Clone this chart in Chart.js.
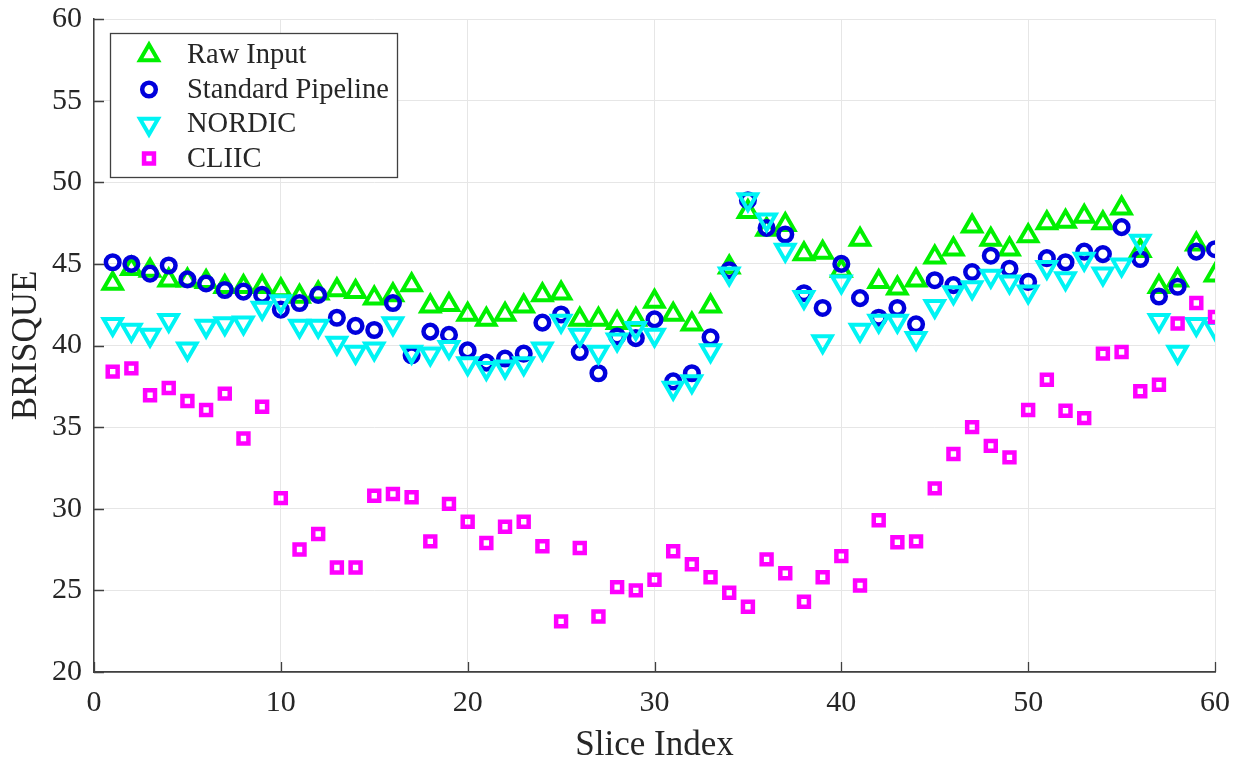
<!DOCTYPE html>
<html>
<head>
<meta charset="utf-8">
<title>BRISQUE per slice</title>
<script src="https://cdn.jsdelivr.net/npm/chart.js@4.4.1/dist/chart.umd.min.js"></script>
<style>
  body{margin:0;background:#fff;}
  #wrap{width:1249px;height:764px;}
</style>
</head>
<body>
<div id="wrap"><canvas id="grafico" width="1249" height="764"></canvas></div>
<script>
// slice index 1..60
let slices=[];
for(let i=1;i<=60;i++) slices.push(i);

let rawInput=[43.8,44.7,44.6,44.0,44.0,43.9,43.6,43.6,43.6,43.4,
  43.0,43.2,43.4,43.3,42.9,43.1,43.7,42.4,42.5,41.9,
  41.6,41.9,42.4,43.1,43.2,41.6,41.6,41.4,41.6,42.7,
  41.9,41.3,42.4,44.8,48.2,47.1,47.4,45.6,45.7,44.6,
  46.5,43.9,43.5,44.0,45.4,45.9,47.3,46.5,45.9,46.7,
  47.5,47.6,47.9,47.5,48.4,45.8,43.6,44.0,46.2,44.3];

let standardPipeline=[45.1,45.0,44.4,44.9,44.05,43.8,43.4,43.3,43.1,42.2,
  42.6,43.1,41.7,41.2,40.95,42.6,39.4,40.85,40.65,39.7,
  38.95,39.2,39.5,41.4,41.9,39.6,38.3,40.55,40.45,41.6,
  37.8,38.3,40.5,44.6,48.9,47.2,46.8,43.2,42.3,45.0,
  42.9,41.7,42.3,41.3,44.0,43.7,44.5,45.5,44.7,43.9,
  45.35,45.1,45.75,45.6,47.25,45.3,43.0,43.6,45.75,45.9];

let nordic=[41.3,40.95,40.65,41.55,39.8,41.2,41.35,41.4,42.3,42.7,
  41.2,41.2,40.15,39.6,39.8,41.35,39.6,39.5,39.9,38.9,
  38.6,38.7,38.9,39.8,41.5,40.65,39.6,40.35,41.05,40.65,
  37.4,37.8,39.7,44.4,48.95,47.7,45.85,42.95,40.25,43.9,
  40.95,41.5,41.5,40.45,42.4,43.25,43.55,44.25,43.9,43.3,
  44.8,44.1,45.3,44.4,44.95,46.4,41.55,39.6,41.3,41.05];

let cliic=[38.4,38.6,36.95,37.4,36.6,36.05,37.05,34.3,36.25,30.65,
  27.5,28.45,26.4,26.4,30.8,30.9,30.7,28.0,30.3,29.2,
  27.9,28.9,29.2,27.7,23.1,27.6,23.4,25.2,25.0,25.65,
  27.4,26.6,25.8,24.85,24.0,26.9,26.05,24.3,25.8,27.1,
  25.3,29.3,27.95,28.0,31.25,33.35,35.0,33.85,33.15,36.05,
  37.9,36.0,35.55,39.5,39.6,37.2,37.6,41.35,42.6,41.75];

let xTicks=[0,10,20,30,40,50,60];
let yTicks=[20,25,30,35,40,45,50,55,60];

const serif="'Liberation Serif','Times New Roman',serif";
const txt="#262626";
const axisCol="#404040";

function pts(vals){
  return vals.map(function(v,i){ return {x:slices[i], y:v}; });
}

let datasets=[
  {label:'Raw Input', data:pts(rawInput), pointStyle:'triangle', pointRotation:0,
   borderColor:'#00f000', radius:10.5, borderWidth:4, order:4},
  {label:'Standard Pipeline', data:pts(standardPipeline), pointStyle:'circle', pointRotation:0,
   borderColor:'#0000dc', radius:6.8, borderWidth:4.5, order:3},
  {label:'NORDIC', data:pts(nordic), pointStyle:'triangle', pointRotation:180,
   borderColor:'#00f4f4', radius:10.5, borderWidth:4, order:2},
  {label:'CLIIC', data:pts(cliic), pointStyle:'rect', pointRotation:0,
   borderColor:'#ff00ff', radius:7, borderWidth:4.5, order:1}
];
datasets.forEach(function(d){
  d.backgroundColor='rgba(0,0,0,0)';
  d.pointBorderColor=d.borderColor;
  d.pointBorderWidth=d.borderWidth;
  d.pointRadius=d.radius;
  d.pointHoverRadius=d.radius;
  d.showLine=false;
});

// small inward ticks like the original figure
const innerTicks={
  id:'innerTicks',
  beforeDatasetsDraw(chart){
    const ctx=chart.ctx, a=chart.chartArea;
    const xs=chart.scales.x, ys=chart.scales.y;
    ctx.save();
    ctx.strokeStyle=axisCol;
    ctx.lineWidth=1.3;
    ctx.beginPath();
    xTicks.forEach(function(t){
      let px=Math.round(xs.getPixelForValue(t))+0.5;
      ctx.moveTo(px,a.bottom); ctx.lineTo(px,a.bottom-10);
    });
    yTicks.forEach(function(t){
      let py=Math.round(ys.getPixelForValue(t))+0.5;
      ctx.moveTo(a.left,py); ctx.lineTo(a.left+10,py);
    });
    ctx.stroke();
    ctx.restore();
  }
};

// boxed legend inside the plot, top left
const boxLegend={
  id:'boxLegend',
  afterDraw(chart){
    const ctx=chart.ctx;
    const x0=110, y0=33, w=287, h=144;
    ctx.save();
    ctx.fillStyle='#fff';
    ctx.fillRect(x0,y0,w,h);
    ctx.strokeStyle=axisCol;
    ctx.lineWidth=1.3;
    ctx.strokeRect(x0+0.5,y0+0.5,w,h);
    ctx.font="28.5px "+serif;
    ctx.textBaseline='middle';
    ctx.textAlign='left';
    datasets.forEach(function(d,i){
      let cy=y0+22+i*34.5;
      ctx.strokeStyle=d.borderColor;
      ctx.fillStyle='rgba(0,0,0,0)';
      ctx.lineWidth=d.borderWidth;
      Chart.helpers.drawPoint(ctx,{pointStyle:d.pointStyle,rotation:d.pointRotation,radius:d.radius,borderWidth:d.borderWidth},149,cy);
      ctx.fillStyle=txt;
      ctx.fillText(d.label,187,cy+1);
    });
    ctx.restore();
  }
};

const ctx=document.getElementById("grafico").getContext('2d');
new Chart(ctx,{
  type:'scatter',
  data:{datasets:datasets},
  options:{
    responsive:false,
    animation:false,
    devicePixelRatio:1,
    layout:{padding:{top:19,right:34,left:0,bottom:0}},
    plugins:{legend:{display:false},tooltip:{enabled:false}},
    scales:{
      x:{
        type:'linear', min:0, max:60,
        afterBuildTicks:function(s){ s.ticks=xTicks.map(function(v){return {value:v};}); },
        afterFit:function(s){ s.height=92; s.paddingLeft=0; s.paddingRight=0; },
        ticks:{font:{family:serif,size:30},color:txt,padding:13,maxRotation:0},
        grid:{color:'#e6e6e6',lineWidth:1,drawTicks:false},
        border:{display:true,color:axisCol,width:1.8},
        title:{display:true,text:'Slice Index',color:txt,font:{family:serif,size:35,lineHeight:1},padding:{top:0,bottom:1}}
      },
      y:{
        type:'linear', min:20, max:60,
        afterBuildTicks:function(s){ s.ticks=yTicks.map(function(v){return {value:v};}); },
        afterFit:function(s){ s.width=94; s.paddingTop=0; s.paddingBottom=0; },
        ticks:{font:{family:serif,size:30},color:txt,padding:12},
        grid:{color:'#e6e6e6',lineWidth:1,drawTicks:false},
        border:{display:true,color:axisCol,width:1.5},
        title:{display:true,text:'BRISQUE',color:txt,font:{family:serif,size:35,lineHeight:1},padding:{top:9,bottom:0}}
      }
    }
  },
  plugins:[innerTicks,boxLegend]
});
</script>
</body>
</html>
